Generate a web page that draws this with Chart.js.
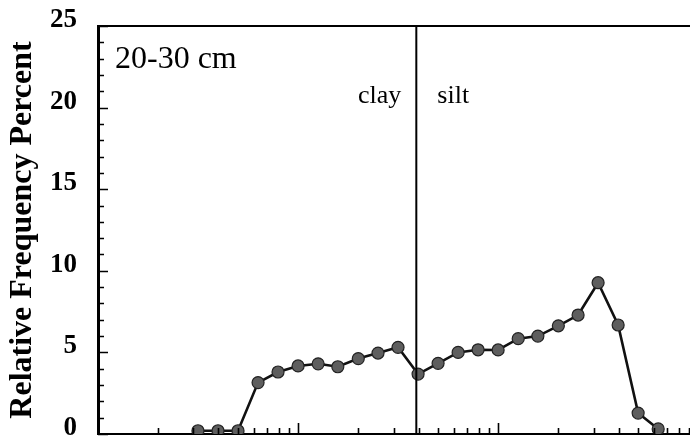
<!DOCTYPE html>
<html><head><meta charset="utf-8">
<script src="https://cdn.jsdelivr.net/npm/chart.js@4"></script>
<style>html,body{margin:0;padding:0;background:#fff;}#wrap{width:690px;height:438px;position:relative;}</style>
</head><body><div id="wrap"><canvas id="c"></canvas></div>
<script>
// grain size (micrometres, log axis) of each class
const grainSizeMicrons = [0.316, 0.398, 0.501, 0.631, 0.794, 1.0, 1.26, 1.58, 2.0, 2.51, 3.16, 3.98,
  5.01, 6.31, 7.94, 10.0, 12.6, 15.8, 20.0, 25.1, 31.6, 39.8, 50.1, 63.1];
// relative frequency percent
const relFreqPercent = [0.2, 0.2, 0.2, 3.15, 3.8, 4.17, 4.3, 4.12, 4.62, 4.96, 5.31, 3.67,
  4.33, 5.0, 5.16, 5.15, 5.84, 6.0, 6.63, 7.29, 9.27, 6.68, 1.28, 0.31];
const xTickValues = [0.2,0.3,0.4,0.5,0.6,0.7,0.8,0.9,1,2,3,4,5,6,7,8,9,10,20,30,40,50,60,70,80,90];
const yTickValues = [0,1,2,3,4,5,6,7,8,9,10,11,12,13,14,15,16,17,18,19,20,21,22,23,24,25];
const yLabelValues = [0,5,10,15,20,25];
const clayBoundary = 3.9;
const boundaryRange = [0, 25];
const sampleLabel = '20-30 cm';
const leftClassLabel = 'clay';
const rightClassLabel = 'silt';
const yTitle = 'Relative Frequency Percent';

const serif = '"Liberation Serif", "Times New Roman", serif';

const decor = {
  id: 'decor',
  afterDatasetsDraw(chart) {
    const {ctx, chartArea: a, scales: {x, y}} = chart;
    ctx.save();
    ctx.strokeStyle = '#000';
    ctx.lineWidth = 1.6;
    ctx.beginPath();
    y.ticks.forEach(t => {
      const py = Math.round(y.getPixelForValue(t.value)) + 0.5;
      const len = yLabelValues.includes(t.value) ? 10 : 6;
      ctx.moveTo(a.left, py); ctx.lineTo(a.left + len, py);
    });
    x.ticks.forEach(t => {
      const lg = Math.log10(t.value);
      const major = Math.abs(lg - Math.round(lg)) < 1e-6;
      const px = Math.round(x.getPixelForValue(t.value)) + 0.5;
      const len = major ? 11 : 6;
      ctx.moveTo(px, a.bottom); ctx.lineTo(px, a.bottom - len);
    });
    ctx.stroke();
    ctx.fillStyle = '#000';
    ctx.textBaseline = 'alphabetic';
    ctx.font = '32px ' + serif;
    ctx.textAlign = 'left';
    ctx.fillText(sampleLabel, a.left + 17, y.getPixelForValue(22.4));
    ctx.font = '26px ' + serif;
    const bx = x.getPixelForValue(clayBoundary);
    const by = y.getPixelForValue(20.3);
    ctx.textAlign = 'right';
    ctx.fillText(leftClassLabel, bx - 15, by);
    ctx.textAlign = 'left';
    ctx.fillText(rightClassLabel, bx + 21, by);
    ctx.restore();
  }
};

new Chart(document.getElementById('c'), {
  type: 'line',
  data: {
    datasets: [
      {
        data: [{x: clayBoundary, y: boundaryRange[0]}, {x: clayBoundary, y: boundaryRange[1]}],
        borderColor: '#000', borderWidth: 2, pointRadius: 0, fill: false, order: 0
      },
      {
        data: grainSizeMicrons.map((g, i) => ({x: g, y: relFreqPercent[i]})),
        borderColor: '#111', borderWidth: 2.6, fill: false, tension: 0,
        pointRadius: 6, pointBackgroundColor: '#5e5e5e', pointBorderColor: '#222', pointBorderWidth: 1.2,
        order: 1
      }
    ]
  },
  options: {
    responsive: true, maintainAspectRatio: false, animation: false,
    devicePixelRatio: 1,
    layout: {autoPadding: false, padding: {top: 26, bottom: 4, left: 0, right: 0}},
    plugins: {legend: {display: false}, tooltip: {enabled: false}},
    scales: {
      x: {
        type: 'logarithmic', position: 'bottom', min: 0.1, max: 91,
        afterBuildTicks: s => { s.ticks = xTickValues.map(v => ({value: v})); },
        afterFit: s => { s.height = 0; s.paddingLeft = 0; s.paddingRight = 0; },
        ticks: {display: false},
        grid: {display: false, drawTicks: false},
        border: {display: true, color: '#000', width: 2}
      },
      x2: {
        type: 'linear', position: 'top', min: 0, max: 1, display: true,
        afterFit: s => { s.height = 0; s.paddingLeft = 0; s.paddingRight = 0; },
        ticks: {display: false},
        grid: {display: false, drawTicks: false},
        border: {display: true, color: '#000', width: 2}
      },
      y: {
        type: 'linear', min: 0, max: 25,
        afterBuildTicks: s => { s.ticks = yTickValues.map(v => ({value: v})); },
        afterFit: s => { s.width = 98; s.paddingTop = 0; s.paddingBottom = 0; },
        ticks: {
          callback: v => yLabelValues.includes(v) ? String(v) : '',
          font: {family: serif, weight: 'bold', size: 27},
          color: '#000', padding: 21, labelOffset: -6, autoSkip: false
        },
        grid: {display: false, drawTicks: false},
        border: {display: true, color: '#000', width: 3},
        title: {
          display: true, text: yTitle, color: '#000',
          font: {family: serif, weight: 'bold', size: 32},
          padding: {top: 4, bottom: 0}
        }
      }
    }
  },
  plugins: [decor]
});
</script></body></html>
